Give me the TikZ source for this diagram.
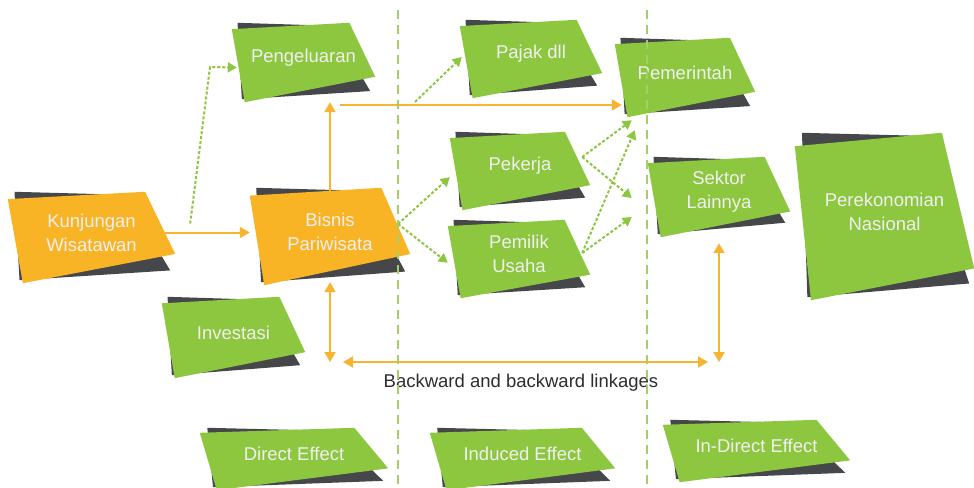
\documentclass[tikz,border=0pt]{standalone}
\usepackage{fontspec}
\setmainfont{Liberation Sans}
\usepackage{xcolor}
\usepackage{tikz}
\usetikzlibrary{
    positioning,
    calc,
    backgrounds,
    arrows.meta
}
\definecolor{leaf}{RGB}{141,198,63}
\definecolor{sunny}{RGB}{249,180,38}
\definecolor{slate}{RGB}{70,71,74}
\definecolor{wire}{RGB}{246,180,48}
\definecolor{fence}{RGB}{165,207,100}
\definecolor{ink}{RGB}{45,45,45}
\tikzset{
  basic/.style = {
      font=\fontsize{18.5}{24}\selectfont,
      align=center,
      inner sep=0pt
  },
  panel/.style = {
      basic,
      text=white!94!black
  },
  caption/.style = {
      basic,
      text=ink
  },
  flow/.style = {
      draw=wire,
      line width=2pt,
      -{Triangle[length=10pt,width=11pt]}
  },
  twoway/.style = {
      flow,
      {Triangle[length=10pt,width=11pt]}-{Triangle[length=10pt,width=11pt]}
  },
  spill/.style = {
      draw=leaf,
      line width=2pt,
      dash pattern=on 3pt off 2pt,
      -{Triangle[length=9pt,width=10pt]}
  },
  divider/.style = {
      draw=fence,
      line width=2pt,
      dash pattern=on 9pt off 6pt
  }
}

\begin{document}
\begin{tikzpicture}[x=1pt, y=-1pt]
    \useasboundingbox (0,0) rectangle (974,487);
    % Nodes
    \node[panel, minimum width=167pt, minimum height=91pt] (kunj) at (91.5,232.5) {Kunjungan\\Wisatawan};
    \node[panel, minimum width=143pt, minimum height=79pt] (peng) at (303.5,57.5) {Pengeluaran};
    \node[panel, minimum width=160pt, minimum height=97pt] (bisnis) at (330,231.5) {Bisnis\\Pariwisata};
    \node[panel, minimum width=143pt, minimum height=81pt] (invest) at (233.5,332.5) {Investasi};
    \node[panel, minimum width=142pt, minimum height=78pt] (pajak) at (531,54) {Pajak dll};
    \node[panel, minimum width=140pt, minimum height=79pt] (pemer) at (685,72.5) {Pemerintah};
    \node[panel, minimum width=140pt, minimum height=78pt] (pekerja) at (520,166) {Pekerja};
    \node[panel, minimum width=142pt, minimum height=78pt] (pemilik) at (519,254) {Pemilik\\Usaha};
    \node[panel, minimum width=142pt, minimum height=80pt] (sektor) at (719,192) {Sektor\\Lainnya};
    \node[panel, minimum width=179pt, minimum height=167pt] (pereko) at (884.5,211.5) {Perekonomian\\Nasional};
    \node[panel, minimum width=188pt, minimum height=62pt] (direct) at (294,454) {Direct Effect};
    \node[panel, minimum width=185pt, minimum height=62pt] (induced) at (522.5,454) {Induced Effect};
    \node[panel, minimum width=187pt, minimum height=62pt] (indirect) at (756.5,446) {In-Direct Effect};
    \node[caption] (linkage) at (521,383) {Backward and backward linkages};
    % Panels
    \begin{pgfonlayer}{background}
    \fill[white] (0,0) rectangle (974,487);
    \foreach \n/\c/\r/\s in {kunj/sunny/0.68/0.86, peng/leaf/0.68/0.86,
        bisnis/sunny/0.68/0.86, invest/leaf/0.68/0.84, pajak/leaf/0.68/0.84,
        pemer/leaf/0.68/0.86, pekerja/leaf/0.68/0.84, pemilik/leaf/0.7/0.86,
        sektor/leaf/0.68/0.82, pereko/leaf/0.81/0.9, direct/leaf/0.65/0.85,
        induced/leaf/0.65/0.85, indirect/leaf/0.65/0.85} {
      \fill[slate] ($(\n.north west)!0.04!(\n.north east)+(0,5)$)
        -- ($(\n.north west)!0.7!(\n.north east)+(0,8)$)
        -- ($(\n.north east)!\s!(\n.south east)+(-5,5)$)
        -- ($(\n.south west)!0.07!(\n.south east)+(0,2)$) -- cycle;
      \fill[\c] ($(\n.north west)!0.08!(\n.south west)+(0,5)$)
        -- ($(\n.north west)!0.82!(\n.north east)+(0,5)$)
        -- ($(\n.north east)!\r!(\n.south east)+(0,5)$)
        -- ($(\n.south west)!0.09!(\n.south east)+(0,5)$) -- cycle;
    }
    \end{pgfonlayer}
    % Edges
    \coordinate (bend) at (210,67);
    \coordinate (tax) at (340,105);
    \coordinate (levy) at (415,102);
    \coordinate (fork) at (398,224);
    \coordinate (pk) at ($(pekerja.east)+(-8,-9)$);
    \coordinate (pm) at ($(pemilik.east)+(-8,-1)$);
    \coordinate (lkw) at (343,362);
    \coordinate (lke) at (708,362);
    \draw[flow] ([xshift=-10pt]kunj.east) -- (kunj.east -| bisnis.west);
    \draw[spill] ($(kunj.east)+(15,-9)$) -- (bend) -- ($(peng.west)+(5,10)$);
    \draw[flow] ([yshift=-9pt]bisnis.north) -- ($(bisnis.north |- peng.south)+(0,5)$);
    \draw[flow] (tax) -- ($(tax -| pemer.west)+(7,0)$);
    \draw[spill] (levy) -- ($(pajak.west)+(2,3)$);
    \draw[spill] (fork) -- (pekerja.189);
    \draw[spill] (fork) -- (pemilik.187);
    \draw[spill] (pk) -- ($(pemer.south west)+(17,8)$);
    \draw[spill] (pk) -- ($(sektor.west)+(-16,6)$);
    \draw[spill] (pm) -- ($(pemer.south west)+(20,18)$);
    \draw[spill] (pm) -- ($(sektor.west)+(-16,25)$);
    \draw[twoway] (lkw) -- (lke);
    \draw[twoway] ([yshift=-2pt]bisnis.south) -- (bisnis.south |- lke);
    \draw[twoway] ($(sektor.south)+(0,11)$) -- (sektor.south |- lke);
    % Dividers
    \draw[divider] (398,10) -- (398,487);
    \draw[divider] (647,10) -- (647,487);
\end{tikzpicture}
\end{document}
